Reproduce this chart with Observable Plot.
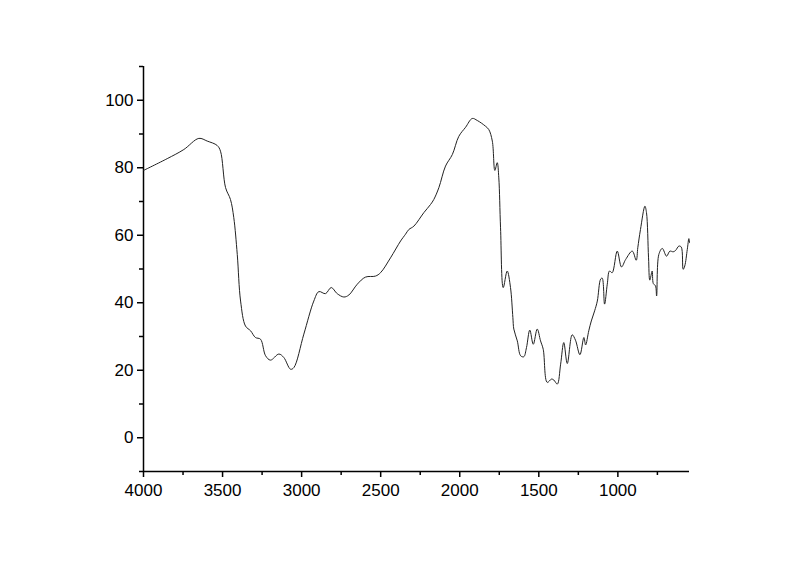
<!DOCTYPE html>
<html>
<head>
<meta charset="utf-8">
<script src="https://cdn.jsdelivr.net/npm/d3@7"></script>
<script src="https://cdn.jsdelivr.net/npm/@observablehq/plot@0.6"></script>
<style>
  html, body { margin: 0; padding: 0; background: #fff; }
  #chart svg { display: block; }
</style>
</head>
<body>
<div id="chart"></div>
<script>
const wavenumber = [4000,3850,3745,3650,3597,3534,3513,3481,3450,3429,3407,3386,3355,3323,3292,3260,3228,3197,3144,3113,3070,3049,2986,2923,2891,2849,2813,2775,2733,2701,2648,2596,2533,2501,2438,2374,2343,2322,2290,2227,2185,2164,2132,2090,2047,2006,1963,1921,1889,1837,1816,1794,1778,1763,1753,1742,1725,1700,1679,1664,1658,1636,1615,1595,1578,1557,1535,1510,1489,1472,1447,1419,1405,1383,1362,1342,1320,1289,1268,1240,1215,1204,1184,1168,1147,1130,1109,1099,1084,1067,1053,1036,1004,977,951,909,884,874,857,829,819,806,798,783,776,762,755,741,719,692,671,650,635,614,599,587,577,561,551,547];
const transmittance = [79.2,82.7,85.4,88.7,87.9,86.6,84.9,74.1,70.6,65.2,54.3,40.5,33.1,31.7,29.7,29.2,24.3,23.0,24.8,23.8,20.3,20.8,30.7,40.5,43.3,42.7,44.5,42.7,41.7,42.3,45.5,47.6,47.9,48.9,53.3,58.3,60.3,61.7,62.7,66.7,69.1,70.6,74.1,80.5,83.9,89.3,92.0,94.6,94.0,92.3,91.3,87.9,79.2,81.5,77.0,62.2,44.5,49.4,44.5,35.6,32.2,28.7,24.3,24.0,26.7,31.9,27.7,32.2,28.7,26.2,16.4,17.4,17.1,15.9,21.8,28.2,22.0,30.5,28.9,24.6,29.7,27.5,31.7,34.6,37.6,40.5,47.0,47.3,39.6,45.5,49.4,48.9,55.3,50.6,52.8,55.3,52.6,56.3,61.7,68.6,66.7,53.3,46.7,49.4,45.7,45.0,42.0,54.3,56.1,53.8,55.3,55.1,55.5,56.8,56.5,49.9,50.9,55.8,59.0,57.8];
const xMajorTicks = [4000,3500,3000,2500,2000,1500,1000];
const xMinorTicks = [3750,3250,2750,2250,1750,1250,750];
const yMajorTicks = [0,20,40,60,80,100];
const yMinorTicks = [-10,10,30,50,70,90,110];

const data = wavenumber.map((w, i) => ({w, t: transmittance[i]}));

const chart = Plot.plot({
  width: 800,
  height: 565,
  marginLeft: 143,
  marginRight: 111,
  marginTop: 66,
  marginBottom: 94,
  style: {fontFamily: "Arial, 'Liberation Sans', sans-serif", fontSize: "17px", color: "#000", background: "#fff"},
  x: {domain: [4000, 547], label: null},
  y: {domain: [-10, 110], label: null},
  marks: [
    Plot.axisX({ticks: xMinorTicks, tickSize: 4, text: null, strokeWidth: 1.5}),
    Plot.axisX({ticks: xMajorTicks, tickSize: 6, tickPadding: 6, tickFormat: d => String(d), strokeWidth: 1.5, fontSize: 17}),
    Plot.axisY({ticks: yMinorTicks, tickSize: 4, text: null, strokeWidth: 1.5}),
    Plot.axisY({ticks: yMajorTicks, tickSize: 6, tickPadding: 4, strokeWidth: 1.5, fontSize: 17}),
    Plot.ruleX([4000], {stroke: "#000", strokeWidth: 1.5}),
    Plot.ruleY([-10], {stroke: "#000", strokeWidth: 1.5}),
    Plot.line(data, {x: "w", y: "t", stroke: "#222", strokeWidth: 1, curve: "catmull-rom"})
  ]
});
document.getElementById("chart").append(chart);
</script>
</body>
</html>
